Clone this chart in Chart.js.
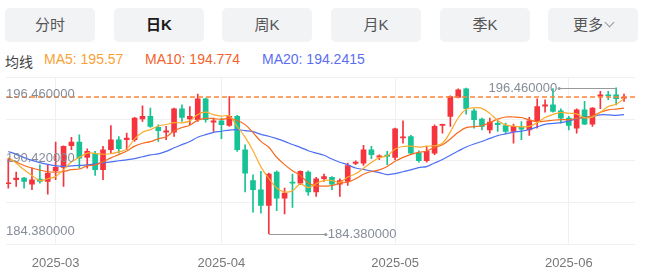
<!DOCTYPE html>
<html>
<head>
<meta charset="utf-8">
<script src="https://cdn.jsdelivr.net/npm/chart.js@4"></script>
<style>
  body { margin: 0; width: 650px; height: 275px; background: #fff; overflow: hidden; position: relative;
    font-family: "Liberation Sans", Arial, "Noto Sans CJK SC", sans-serif; }
  .tab { position: absolute; top: 8px; width: 90px; height: 34px; line-height: 34px; background: #f2f3f5;
    border-radius: 5px; text-align: center; font-size: 15px; color: #555;
    font-family: "Liberation Sans", "Noto Sans CJK SC", sans-serif; }
  .tab.active { color: #1a1a1a; font-weight: bold; }
  .chev { display: inline-block; width: 6px; height: 6px; border-right: 1px solid #999; border-bottom: 1px solid #999;
    transform: rotate(45deg); margin-left: 3px; position: relative; top: -4px; }
  .lg { position: absolute; top: 51px; font-size: 14px; white-space: nowrap; }
  #wrap { position: absolute; left: 0; top: 70px; width: 650px; height: 205px; }
</style>
</head>
<body>
<div class="tab" style="left:5px">分时</div>
<div class="tab active" style="left:114px">日K</div>
<div class="tab" style="left:222px">周K</div>
<div class="tab" style="left:331px">月K</div>
<div class="tab" style="left:440px">季K</div>
<div class="tab" style="left:548px">更多<span class="chev"></span></div>

<div class="lg" style="left:5px;color:#444">均线</div>
<div class="lg" style="left:44px;color:#f7a234">MA5: 195.57</div>
<div class="lg" style="left:145px;color:#f4622d">MA10: 194.774</div>
<div class="lg" style="left:262px;color:#5a6ef2">MA20: 194.2415</div>

<div id="wrap"><canvas id="kline"></canvas></div>

<script>
// daily candles, oldest first
const open = [
  188.52, 188.85, 188.99, 188.49, 188.90, 188.71, 189.59, 189.87, 191.66, 191.96,
  190.70, 191.00, 189.68, 191.33, 192.16, 192.16, 192.16, 193.89, 194.09, 193.18,
  192.79, 192.79, 194.72, 193.89, 193.81, 195.55, 193.62, 193.73, 193.34, 194.09,
  191.33, 188.77, 188.02, 186.72, 189.48, 187.33, 188.65, 188.57, 189.48, 187.83,
  188.93, 189.04, 188.49, 188.71, 190.20, 190.23, 191.33, 190.72, 190.89, 190.70,
  192.30, 192.43, 191.05, 190.42, 191.05, 193.34, 194.09, 195.66, 196.38, 194.56,
  193.87, 192.98, 193.51, 193.34, 192.85, 193.21, 192.98, 193.73, 194.94, 195.05,
  194.56, 193.95, 193.12, 194.64, 193.45, 195.77, 195.88, 195.88, 195.60
];
const high = [
  190.59, 189.48, 189.04, 189.81, 190.09, 190.09, 191.96, 191.66, 192.35, 192.57,
  191.41, 191.19, 191.61, 193.34, 192.43, 192.71, 194.01, 194.97, 194.78, 193.40,
  193.26, 194.78, 195.05, 194.91, 195.94, 195.61, 193.95, 193.95, 195.74, 194.17,
  191.74, 189.26, 189.54, 189.40, 189.59, 188.16, 189.32, 189.59, 189.59, 189.04,
  189.32, 189.12, 188.93, 190.23, 190.42, 191.69, 191.61, 190.92, 191.19, 193.12,
  193.73, 192.52, 191.25, 191.61, 193.40, 193.45, 195.80, 196.38, 196.43, 194.72,
  193.95, 193.95, 193.73, 193.54, 193.45, 193.67, 194.01, 195.55, 195.47, 196.40,
  194.72, 194.09, 194.72, 195.33, 194.83, 196.16, 196.16, 196.46, 195.94
];
const low = [
  188.16, 188.30, 188.16, 188.02, 188.57, 187.66, 188.85, 188.30, 191.33, 189.81,
  189.81, 189.21, 188.85, 191.05, 191.05, 191.33, 192.02, 193.67, 193.18, 192.02,
  192.16, 192.43, 193.67, 193.40, 193.67, 193.62, 192.85, 192.24, 193.26, 191.19,
  187.83, 186.17, 186.09, 184.38, 186.28, 186.01, 186.56, 188.43, 187.55, 187.47,
  188.71, 188.02, 187.47, 188.38, 190.09, 190.03, 190.59, 190.50, 190.09, 190.50,
  191.88, 190.92, 190.31, 190.31, 190.92, 192.71, 193.26, 195.61, 194.28, 193.12,
  192.98, 192.71, 192.85, 192.71, 191.88, 192.16, 192.52, 193.12, 194.45, 194.45,
  193.54, 192.98, 192.71, 193.40, 193.26, 194.72, 195.47, 195.05, 195.33
];
const close = [
  188.60, 188.99, 188.71, 188.85, 188.71, 189.40, 189.87, 191.61, 191.96, 190.64,
  191.19, 189.68, 191.33, 192.16, 191.41, 192.30, 193.95, 194.09, 193.26, 192.90,
  192.90, 194.72, 194.01, 194.09, 195.55, 193.81, 193.73, 193.40, 194.09, 191.33,
  189.40, 188.02, 186.72, 189.32, 187.33, 187.75, 188.57, 189.54, 187.83, 188.93,
  189.12, 188.49, 188.77, 190.03, 190.31, 191.33, 190.92, 190.83, 190.78, 193.07,
  192.41, 191.05, 190.42, 191.19, 193.26, 193.43, 195.74, 196.29, 194.72, 193.81,
  193.26, 193.62, 193.40, 192.85, 193.26, 193.04, 193.73, 194.91, 195.05, 194.50,
  193.95, 193.34, 194.64, 193.45, 194.78, 195.88, 195.80, 195.55, 195.66
];

const ma5 = [
  190.70, 190.23, 189.68, 189.20, 188.77, 188.93, 189.11, 189.69, 190.31, 190.70,
  191.05, 191.02, 190.96, 191.00, 191.15, 191.38, 192.23, 192.78, 193.00, 193.30,
  193.42, 193.57, 193.56, 193.72, 194.25, 194.44, 194.24, 194.12, 194.12, 193.25,
  192.37, 191.25, 189.91, 188.96, 188.16, 187.83, 187.94, 188.50, 188.20, 188.52,
  188.80, 188.78, 188.63, 189.07, 189.34, 189.79, 190.27, 190.68, 190.83, 191.39,
  191.60, 191.63, 191.55, 191.63, 191.67, 191.87, 192.81, 193.98, 194.69, 194.80,
  194.76, 194.34, 193.76, 193.39, 193.28, 193.23, 193.26, 193.56, 194.00, 194.25,
  194.43, 194.35, 194.30, 193.98, 194.03, 194.42, 194.91, 195.09, 195.57
];
const ma10 = [
  190.59, 190.31, 190.03, 189.82, 189.65, 189.51, 189.48, 189.53, 189.68, 189.74,
  189.99, 190.07, 190.33, 190.66, 190.93, 191.22, 191.63, 191.87, 192.00, 192.23,
  192.40, 192.90, 193.17, 193.36, 193.78, 193.93, 193.91, 193.84, 193.92, 193.75,
  193.41, 192.75, 192.02, 191.54, 190.71, 190.10, 189.60, 189.21, 188.58, 188.34,
  188.32, 188.36, 188.57, 188.64, 188.93, 189.30, 189.53, 189.66, 189.95, 190.37,
  190.70, 190.95, 191.12, 191.23, 191.53, 191.74, 192.22, 192.77, 193.16, 193.24,
  193.32, 193.58, 193.87, 194.04, 194.04, 194.00, 193.80, 193.66, 193.70, 193.77,
  193.83, 193.81, 193.93, 193.99, 194.14, 194.43, 194.63, 194.70, 194.77
];
const ma20 = [
  191.19, 190.95, 190.68, 190.45, 190.27, 190.12, 190.00, 189.96, 189.99, 190.03,
  190.08, 190.16, 190.25, 190.33, 190.42, 190.50, 190.60, 190.75, 190.90, 190.99,
  191.20, 191.49, 191.75, 192.01, 192.36, 192.58, 192.77, 192.86, 192.96, 192.99,
  192.91, 192.83, 192.60, 192.45, 192.25, 192.02, 191.76, 191.53, 191.25, 191.05,
  190.87, 190.56, 190.30, 190.09, 189.82, 189.70, 189.57, 189.44, 189.27, 189.36,
  189.51, 189.66, 189.85, 189.94, 190.23, 190.52, 190.88, 191.22, 191.56, 191.81,
  192.01, 192.27, 192.50, 192.64, 192.79, 192.87, 193.01, 193.22, 193.43, 193.51,
  193.58, 193.70, 193.90, 194.02, 194.09, 194.22, 194.22, 194.18, 194.24
];

// month ticks (candle number where each month starts)
const tickPos = [7, 28, 50, 72];
const tickLabels = ['2025-03', '2025-04', '2025-05', '2025-06'];

const UP = '#f5343d';
const DOWN = '#17c394';
const LABEL = '#868d99';

const candleColors = close.map((c, i) => (c >= open[i] ? UP : DOWN));
const xy = (arr) => arr.map((v, i) => ({ x: i + 1, y: v }));

const yMin = 183.53;
const yMax = 197.31;

const overlay = {
  id: 'overlay',
  afterDatasetsDraw(chart) {
    const { ctx, chartArea: a, scales: { x, y } } = chart;
    const maxHigh = Math.max(...high);
    const minLow = Math.min(...low);
    const mid = (maxHigh + minLow) / 2;
    const last = close[close.length - 1];
    ctx.save();

    // last price dashed line
    ctx.strokeStyle = '#ff8433';
    ctx.lineWidth = 1.5;
    ctx.setLineDash([5, 3]);
    ctx.beginPath();
    const ly = Math.round(y.getPixelForValue(last));
    ctx.moveTo(a.left, ly);
    ctx.lineTo(a.right, ly);
    ctx.stroke();
    ctx.setLineDash([]);
    ctx.lineWidth = 1;

    // range labels on the left
    ctx.font = '13px "Liberation Sans", Arial, sans-serif';
    ctx.fillStyle = LABEL;
    ctx.textAlign = 'left';
    ctx.textBaseline = 'top';
    ctx.fillText(maxHigh.toFixed(6), a.left, y.getPixelForValue(maxHigh));
    ctx.textBaseline = 'alphabetic';
    ctx.fillText(mid.toFixed(6), a.left, y.getPixelForValue(mid) + 1);
    ctx.fillText(minLow.toFixed(6), a.left, y.getPixelForValue(minLow) + 1);

    // high / low markers
    const marks = [
      [high.lastIndexOf(maxHigh), maxHigh],
      [low.indexOf(minLow), minLow]
    ];
    ctx.textBaseline = 'middle';
    marks.forEach(([i, v]) => {
      const px = x.getPixelForValue(i + 1);
      const py = Math.round(y.getPixelForValue(v)) + 0.5;
      const dir = px > (a.left + a.right) / 2 ? -1 : 1;
      const ex = px + dir * 57;
      ctx.strokeStyle = '#999';
      ctx.beginPath();
      ctx.moveTo(px, py);
      ctx.lineTo(ex, py);
      ctx.stroke();
      ctx.fillStyle = '#999';
      ctx.beginPath();
      ctx.arc(ex, py, 1.6, 0, Math.PI * 2);
      ctx.fill();
      ctx.fillStyle = LABEL;
      ctx.textAlign = dir < 0 ? 'right' : 'left';
      ctx.fillText(v.toFixed(6), ex + dir * 2, py);
    });
    ctx.restore();
  }
};

const line = (label, data, color) => ({
  type: 'line',
  label,
  data: xy(data),
  borderColor: color,
  borderWidth: 1.2,
  pointRadius: 0,
  tension: 0.35,
  order: 0
});

new Chart(document.getElementById('kline'), {
  type: 'bar',
  data: {
    datasets: [
      line('MA5', ma5, '#fbab2a'),
      line('MA10', ma10, '#f76b1f'),
      line('MA20', ma20, '#4d6ff2'),
      {
        label: 'body',
        data: open.map((o, i) => ({ x: i + 1, y: [o, close[i]] })),
        backgroundColor: candleColors,
        barThickness: 5,
        minBarLength: 1,
        grouped: false,
        order: 1
      },
      {
        label: 'wick',
        data: low.map((l, i) => ({ x: i + 1, y: [l, high[i]] })),
        backgroundColor: candleColors,
        barThickness: 1,
        grouped: false,
        order: 2
      }
    ]
  },
  options: {
    responsive: true,
    maintainAspectRatio: false,
    animation: false,
    layout: { padding: { left: 6, right: 15, top: 7.5, bottom: 0 } },
    plugins: { legend: { display: false }, tooltip: { enabled: false } },
    scales: {
      x: {
        type: 'linear',
        min: 0.71,
        max: 80.39,
        offset: false,
        afterBuildTicks: (s) => { s.ticks = tickPos.map((v) => ({ value: v })); },
        afterFit: (s) => { s.height = 31; },
        grid: { color: '#f0f0f0', drawTicks: false, offset: false },
        border: { display: false },
        ticks: {
          autoSkip: false,
          maxRotation: 0,
          padding: 12,
          color: '#777',
          font: { size: 13, family: '"Liberation Sans", Arial, sans-serif' },
          callback: (v) => tickLabels[tickPos.indexOf(v)]
        }
      },
      y: {
        min: yMin,
        max: yMax,
        afterBuildTicks: (s) => {
          const step = (yMax - yMin) / 4;
          s.ticks = [0, 1, 2, 3, 4].map((k) => ({ value: yMin + k * step }));
        },
        afterFit: (s) => { s.width = 0; },
        grid: { color: '#f0f0f0', drawTicks: false },
        border: { display: false },
        ticks: { display: false }
      }
    }
  },
  plugins: [overlay]
});
</script>
</body>
</html>
